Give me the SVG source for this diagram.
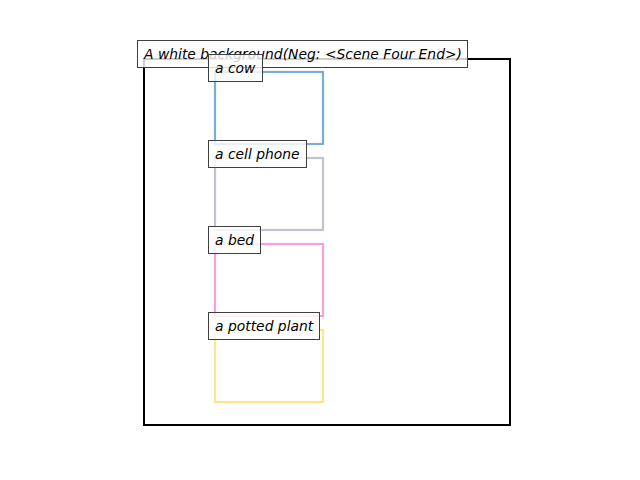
<svg xmlns="http://www.w3.org/2000/svg" width="640" height="480" viewBox="0 0 640 480">
<style>
.lbl rect{fill:#ffffff;fill-opacity:0.8;stroke:#3f3f3f;stroke-width:1}
.lbl text{font-family:"DejaVu Sans",sans-serif;font-style:italic;font-size:13.89px;fill:#000}
.box{fill:none;stroke-width:2.2}
</style>
<rect width="640" height="480" fill="#fff"/>
<g id="scene"><rect x="144" y="59" width="366" height="366" fill="none" stroke="#000" stroke-width="2"/></g>
<g id="cow"><rect class="box" x="215" y="72" width="108" height="72" stroke="#1f77b4" stroke-opacity="0.6"/></g>
<g id="cellphone"><rect class="box" x="215" y="158" width="108" height="72" stroke="#9a9ab4" stroke-opacity="0.6"/></g>
<g id="bed"><rect class="box" x="215" y="244" width="108" height="72" stroke="#f45fc8" stroke-opacity="0.6"/></g>
<g id="pottedplant"><rect class="box" x="215" y="330" width="108" height="72" stroke="#fdd53a" stroke-opacity="0.6"/></g>
<g id="title" class="lbl"><rect x="137.5" y="40.5" width="330" height="27"/><text x="144" y="59">A white background(Neg: &lt;Scene Four End&gt;)</text></g>
<g id="cow-label" class="lbl"><rect x="208.5" y="54.5" width="54" height="27"/><text x="215" y="73">a cow</text></g>
<g id="cellphone-label" class="lbl"><rect x="208.5" y="140.5" width="98" height="27"/><text x="215" y="159">a cell phone</text></g>
<g id="bed-label" class="lbl"><rect x="208.5" y="226.5" width="52" height="27"/><text x="215" y="245">a bed</text></g>
<g id="pottedplant-label" class="lbl"><rect x="208.5" y="312.5" width="111" height="27"/><text x="215" y="331">a potted plant</text></g>
</svg>
